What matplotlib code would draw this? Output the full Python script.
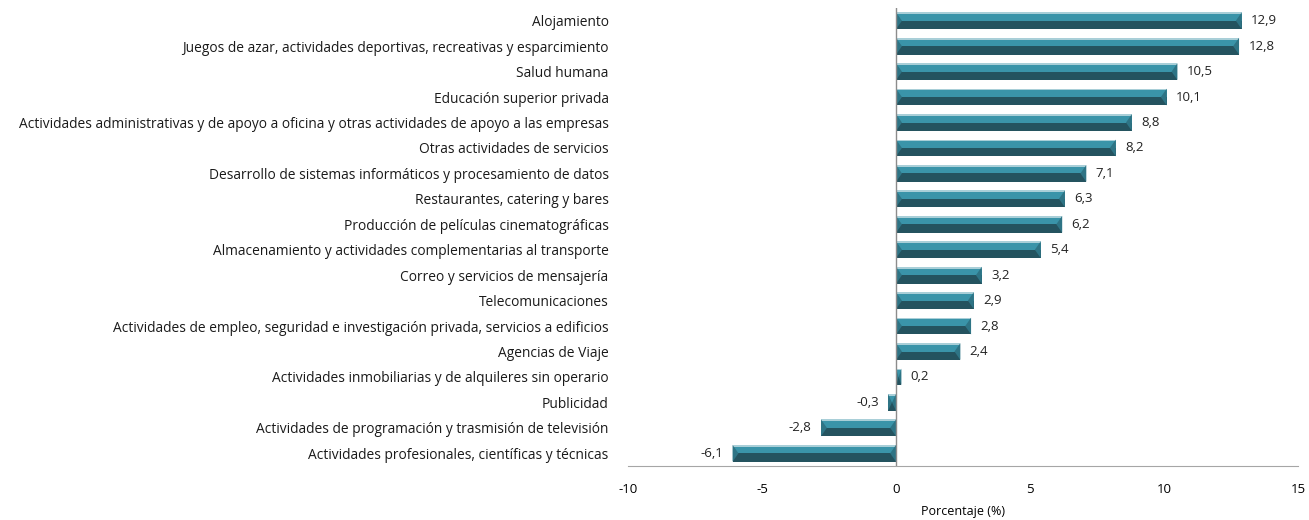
import numpy as np
import matplotlib.pyplot as plt
from matplotlib.patches import Polygon

categorias = [
    "Alojamiento",
    "Juegos de azar, actividades deportivas, recreativas y esparcimiento",
    "Salud humana",
    "Educación superior privada",
    "Actividades administrativas y de apoyo a oficina y otras actividades de apoyo a las empresas",
    "Otras actividades de servicios",
    "Desarrollo de sistemas informáticos y procesamiento de datos",
    "Restaurantes, catering y bares",
    "Producción de películas cinematográficas",
    "Almacenamiento y actividades complementarias al transporte",
    "Correo y servicios de mensajería",
    "Telecomunicaciones",
    "Actividades de empleo, seguridad e investigación privada, servicios a edificios",
    "Agencias de Viaje",
    "Actividades inmobiliarias y de alquileres sin operario",
    "Publicidad",
    "Actividades de programación y trasmisión de televisión",
    "Actividades profesionales, científicas y técnicas",
]
valores = [12.9, 12.8, 10.5, 10.1, 8.8, 8.2, 7.1, 6.3, 6.2, 5.4, 3.2, 2.9, 2.8, 2.4, 0.2, -0.3, -2.8, -6.1]
xticks = [-10, -5, 0, 5, 10, 15]

plt.rcParams['font.family'] = ['Open Sans', 'DejaVu Sans']

fig = plt.figure(figsize=(13.09, 5.2), dpi=100)
ax = fig.add_axes([0.4798, 0.1038, 0.5118, 0.8808])

y = np.arange(len(categorias))
h = 0.66
claro = '#3a94a9'
oscuro = '#24535f'
borde = '#a9cfd8'

# bar halves: light top, dark bottom
ax.barh(y - h / 4, valores, height=h / 2, color=claro, linewidth=0, zorder=2)
ax.barh(y + h / 4, valores, height=h / 2, color=oscuro, linewidth=0, zorder=2)
ax.barh(y - h / 2 + 0.035, valores, height=0.07, color=borde, linewidth=0, zorder=3)

# bevel at both ends
bev = 0.22
for yi, v in zip(y, valores):
    s = np.sign(v) if v != 0 else 1
    b = min(bev, abs(v) / 2)
    for x0, d in [(0, s), (v, -s)]:
        tri = Polygon([[x0, yi - h / 2], [x0 + d * b, yi], [x0, yi + h / 2]],
                      closed=True, color='#2e7485', lw=0, zorder=4)
        ax.add_patch(tri)

for yi, v in zip(y, valores):
    lbl = f"{v:.1f}".replace('.', ',')
    if v >= 0:
        ax.text(v + 0.35, yi, lbl, va='center', ha='left', fontsize=9.5, color='#222222')
    else:
        ax.text(v - 0.35, yi, lbl, va='center', ha='right', fontsize=9.5, color='#222222')

ax.set_xlim(-10, 15)
ax.set_ylim(len(categorias) - 0.5, -0.5)
ax.set_xticks(xticks)
ax.set_xticklabels([str(t) for t in xticks], fontsize=9.5)
ax.set_yticks(y)
ax.set_yticklabels(categorias, fontsize=9.9, color='#1a1a1a')
ax.tick_params(axis='y', length=0, pad=14)
ax.tick_params(axis='x', length=0, pad=12)
ax.set_xlabel('Porcentaje (%)', fontsize=9, labelpad=7)

for sp in ['top', 'right', 'left']:
    ax.spines[sp].set_visible(False)
ax.spines['bottom'].set_color('#a6a6a6')
ax.axvline(0, color='#8c8c8c', lw=1, zorder=5)

fig.savefig('out.png', dpi=100)
